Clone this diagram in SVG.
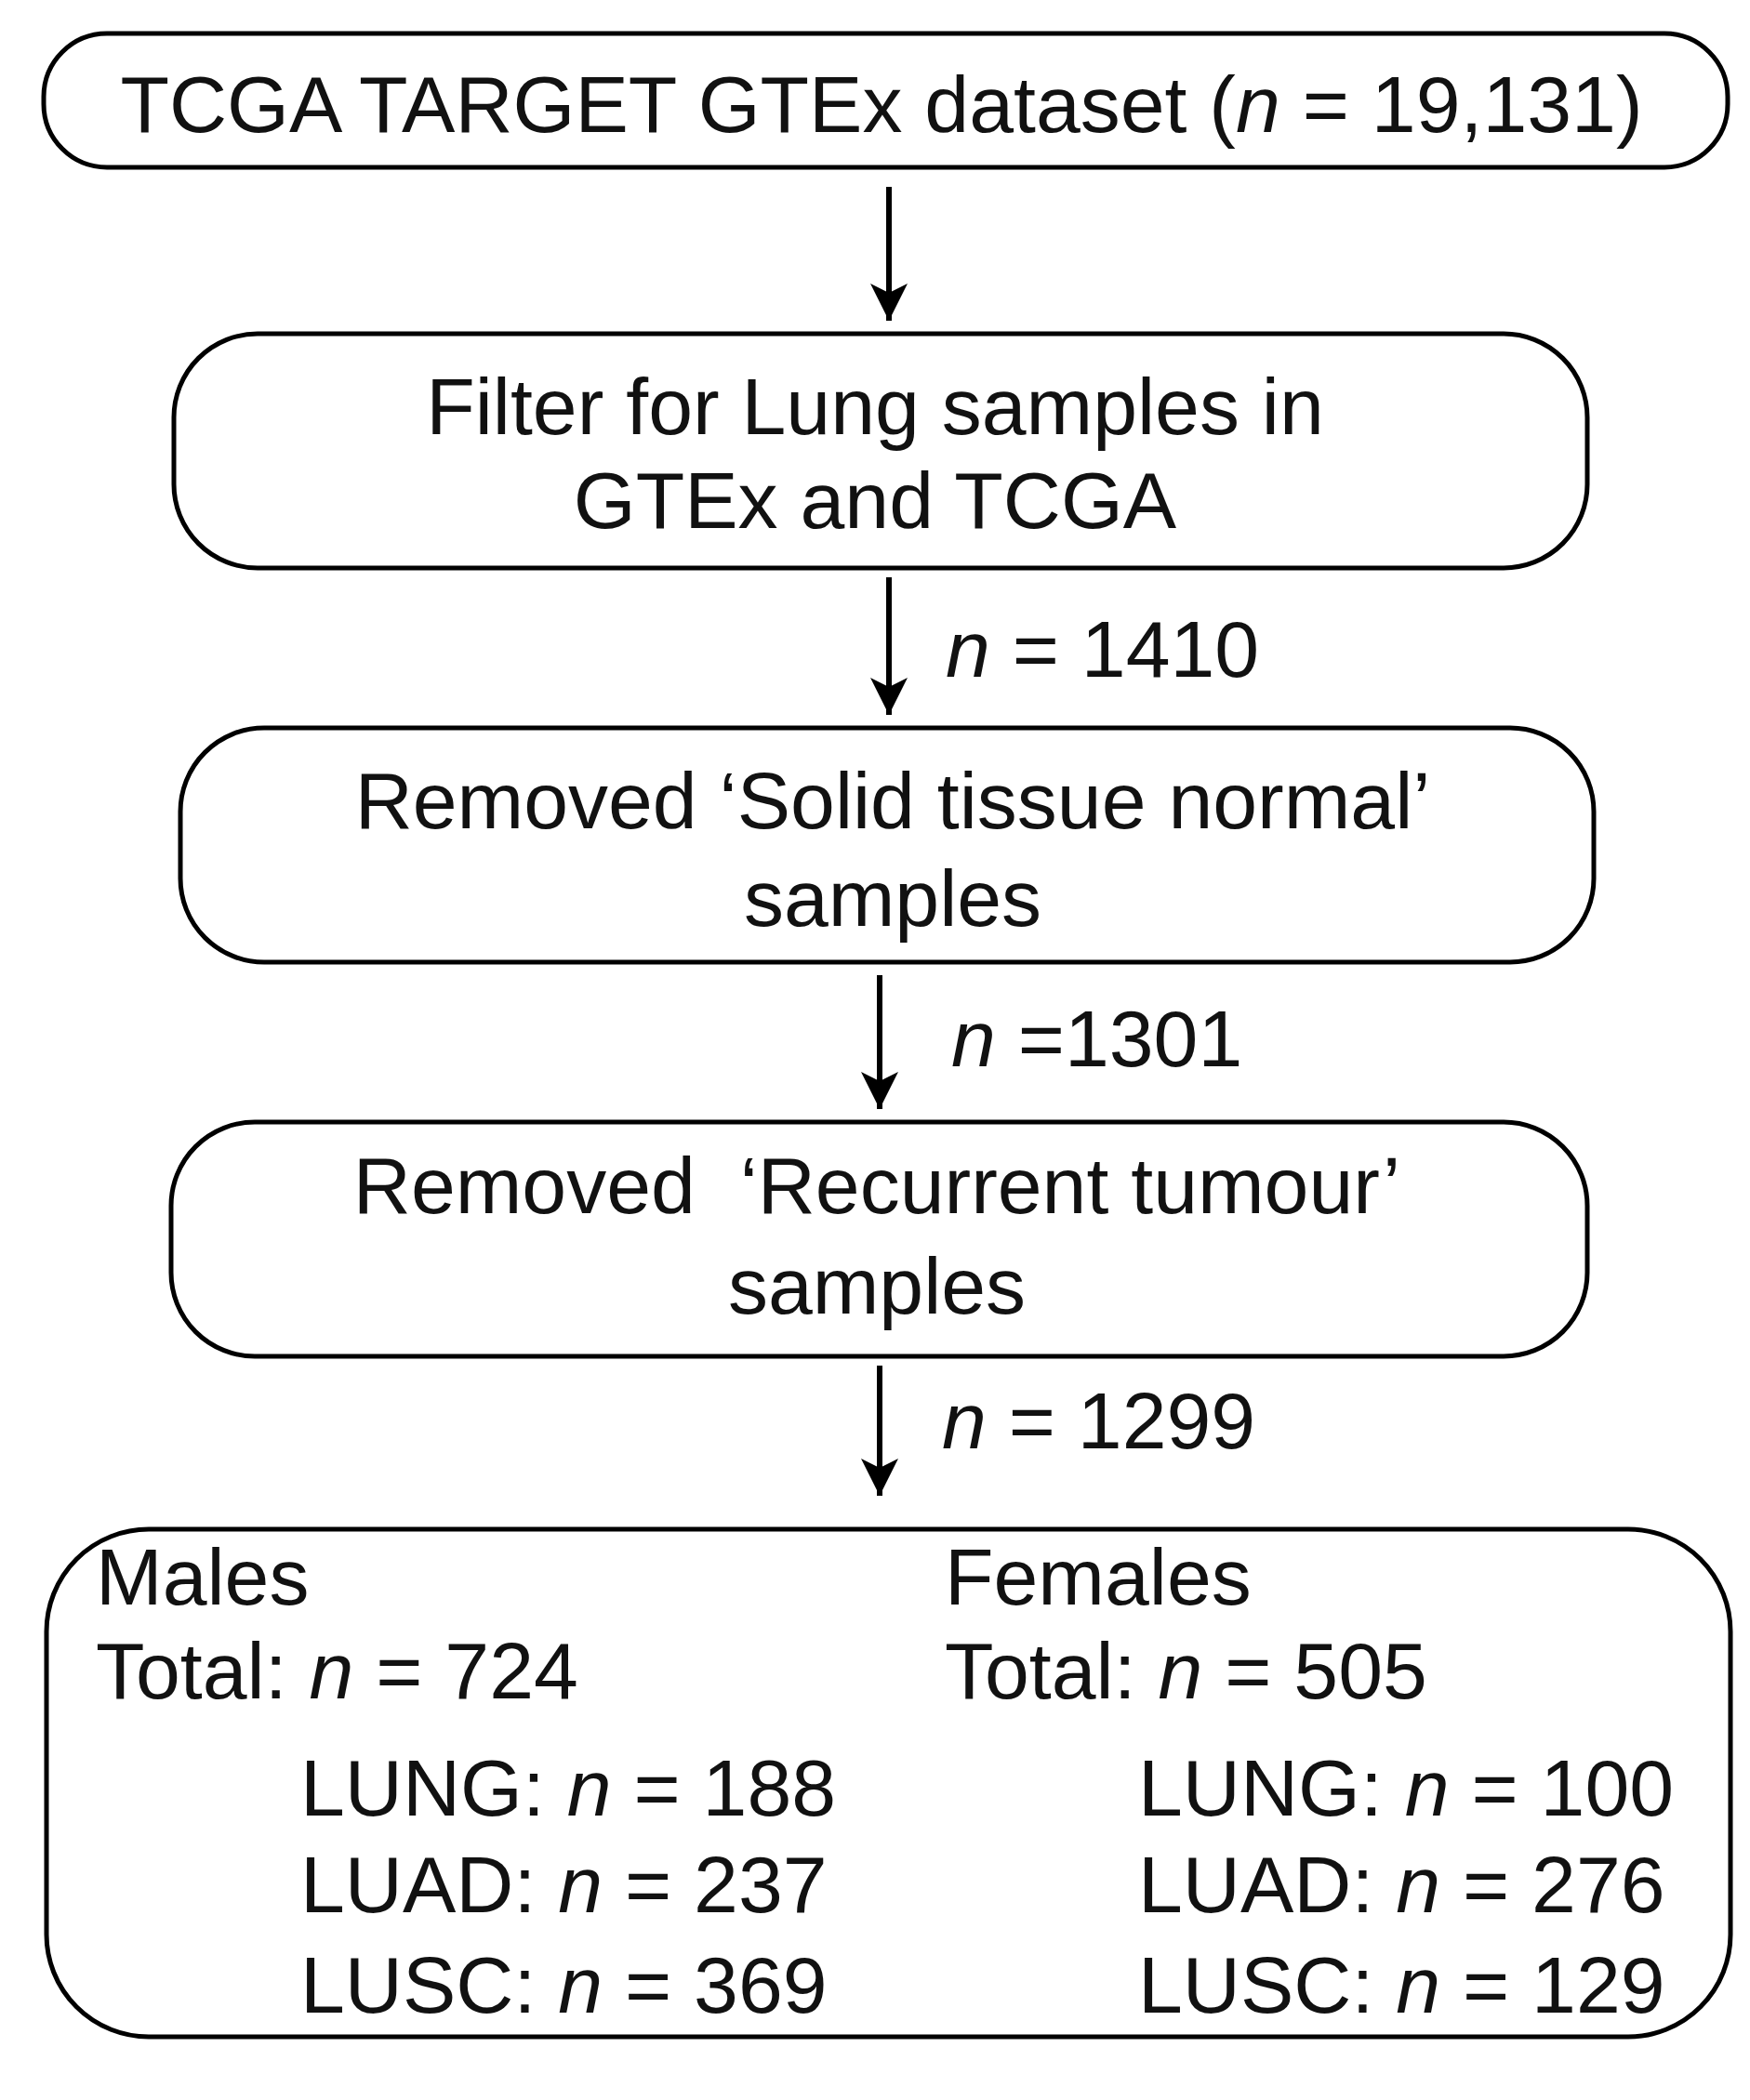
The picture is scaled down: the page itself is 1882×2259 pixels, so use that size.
<svg xmlns="http://www.w3.org/2000/svg" width="1882" height="2259" viewBox="0 0 1882 2259">
<defs>
<marker id="a" viewBox="0 0 20 20" refX="20" refY="10" markerWidth="40" markerHeight="48" markerUnits="userSpaceOnUse" orient="auto"><path d="M0,0 L20,10 L0,20 L5,10 z" fill="#000"/></marker>
<style>
rect{fill:#fff;stroke:#000;stroke-width:5}
text{font-family:"Liberation Sans",Arial,sans-serif;font-size:86px;fill:#111}
.c{text-anchor:middle}
line{stroke:#000;stroke-width:6}
</style>
</defs>
<rect width="1882" height="2259" style="fill:#fff;stroke:none"/>
<g id="n1"><rect x="47" y="36" width="1811" height="144" rx="68"/><text class="c" x="948" y="142">TCGA TARGET GTEx dataset (<tspan font-style="italic">n</tspan> = 19,131)</text></g>
<g id="n2"><rect x="187" y="359" width="1520" height="252" rx="90"/><text class="c" x="941" y="467">Filter for Lung samples in</text><text class="c" x="941" y="568">GTEx and TCGA</text></g>
<g id="n3"><rect x="194" y="783" width="1520" height="252" rx="90"/><text class="c" x="960" y="891">Removed ‘Solid tissue normal’</text><text class="c" x="960" y="996">samples</text></g>
<g id="n4"><rect x="184" y="1207" width="1523" height="252" rx="90"/><text class="c" x="943" y="1305">Removed&#160; ‘Recurrent tumour’</text><text class="c" x="943" y="1413">samples</text></g>
<g id="n5"><rect x="50" y="1645" width="1811" height="546" rx="110"/>
<text x="103" y="1726">Males</text><text x="103" y="1827">Total: <tspan font-style="italic">n</tspan> = 724</text>
<text x="323" y="1953">LUNG: <tspan font-style="italic">n</tspan> = 188</text><text x="323" y="2057">LUAD: <tspan font-style="italic">n</tspan> = 237</text><text x="323" y="2165">LUSC: <tspan font-style="italic">n</tspan> = 369</text>
<text x="1016" y="1726">Females</text><text x="1016" y="1827">Total: <tspan font-style="italic">n</tspan> = 505</text>
<text x="1224" y="1953">LUNG: <tspan font-style="italic">n</tspan> = 100</text><text x="1224" y="2057">LUAD: <tspan font-style="italic">n</tspan> = 276</text><text x="1224" y="2165">LUSC: <tspan font-style="italic">n</tspan> = 129</text></g>
<g id="connectors">
<line x1="956" y1="201" x2="956" y2="345" marker-end="url(#a)"/>
<line x1="956" y1="621" x2="956" y2="769" marker-end="url(#a)"/>
<line x1="946" y1="1049" x2="946" y2="1193" marker-end="url(#a)"/>
<line x1="946" y1="1469" x2="946" y2="1609" marker-end="url(#a)"/>
<text x="1017" y="728"><tspan font-style="italic">n</tspan> = 1410</text>
<text x="1023" y="1147"><tspan font-style="italic">n</tspan> =1301</text>
<text x="1013" y="1558"><tspan font-style="italic">n</tspan> = 1299</text>
</g>
</svg>
